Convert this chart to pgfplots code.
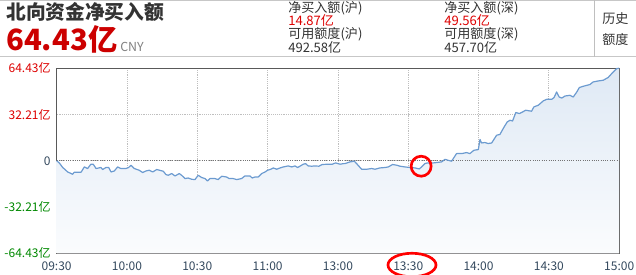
\documentclass[border=0pt]{standalone}
\usepackage{pgfplots}
\pgfplotsset{compat=1.18}
\usepackage{pgfplotstable}
\usepackage{fontspec}
\setmainfont{Noto Sans CJK SC}
\definecolor{linec}{HTML}{6C9BD0}
\definecolor{upred}{HTML}{DD0000}
\definecolor{hdred}{HTML}{CC0000}
\definecolor{dngreen}{HTML}{008800}
\definecolor{txt}{HTML}{333333}
\definecolor{zerol}{HTML}{34495E}
\pgfplotstableread{
t v
0 0
1.1 -1.5
2.6 -4.7
4.7 -7.8
6.8 -9.4
7.5 -8.0
10.4 -8.0
11.8 -4.3
13.2 -5.4
14.6 -2.4
15.6 -2.4
16.8 -5.4
18.9 -4.7
19.6 -6.1
21.0 -4.7
22.2 -4.7
23.2 -7.8
24.6 -7.1
26.0 -4.3
27.4 -5.4
29.6 -5.4
30.7 -4.7
31.7 -3.1
33.1 -5.4
35.2 -6.6
36.7 -8.2
38.1 -7.1
39.5 -6.6
41.0 -7.8
42.7 -6.1
45.5 -7.3
46.6 -9.6
47.6 -10.1
49.1 -8.9
50.5 -10.6
52.3 -8.9
53.3 -10.1
54.8 -12.4
56.1 -12.0
57.6 -12.9
59.0 -13.1
60.4 -10.1
61.9 -11.7
63.3 -12.4
64.4 -14.1
65.4 -12.4
67.5 -12.4
68.9 -13.1
70.4 -10.8
72.5 -11.3
73.6 -12.4
75.3 -12.4
76.8 -13.1
78.9 -12.4
80.3 -10.6
82.5 -10.6
83.4 -12.0
84.6 -11.3
86.0 -11.3
87.5 -8.9
88.9 -7.8
90.0 -6.6
91.4 -5.9
92.4 -5.0
93.9 -5.9
95.3 -5.0
96.7 -4.3
98.8 -3.6
100.3 -4.3
101.7 -3.6
102.8 -4.7
103.8 -3.8
105.2 -2.4
106.2 -2.0
107.3 -3.6
108.8 -3.8
110.2 -3.6
111.9 -3.8
113.3 -2.6
115.9 -2.4
117.6 -2.4
119.0 -1.5
120.9 -2.4
122.3 -2.0
123.0 -2.0
125.1 -0.8
127.0 -0.3
128.2 -2.4
130.1 -5.9
132.3 -5.9
134.4 -5.4
135.8 -5.9
137.9 -5.0
140.1 -4.7
141.5 -4.3
143.3 -2.6
145.1 -3.1
146.5 -3.8
148.6 -4.3
150.7 -4.7
152.9 -5.0
154.7 -5.7
155.7 -4.3
157.1 -2.0
158.1 -1.5
160.7 -1.5
164.2 -0.8
165.7 1.0
167.1 0.3
168.5 -0.3
170.6 5.0
172.8 5.0
174.9 5.7
176.3 5.0
178.0 7.3
179.9 7.8
180.6 14.8
181.3 12.4
182.7 12.7
184.1 12.0
185.6 12.4
187.7 17.8
189.1 18.3
190.5 22.4
192.2 27.0
193.4 28.2
194.5 27.7
195.9 33.6
197.4 32.9
198.8 34.0
200.1 35.2
201.9 34.7
202.6 34.5
203.6 37.5
205.5 38.7
207.6 41.7
209.1 42.8
211.2 42.8
212.2 44.0
213.3 47.9
214.4 44.4
215.5 43.7
216.9 45.1
219.0 45.6
220.4 44.4
221.9 47.9
223.0 51.0
224.7 51.9
227.5 53.1
228.9 54.9
231.1 55.6
233.2 56.1
235.3 58.0
236.8 60.7
237.9 62.6
238.9 64.2
240 64.43
}\flow
\begin{document}
\begin{tikzpicture}[x=0.75pt,y=0.75pt]
\useasboundingbox (0,0) rectangle (636,275);
\draw[black!22, line width=1.5pt] (0,274.5) -- (636,274.5);
\draw[black!22, line width=0.75pt] (0,218) -- (636,218);
\draw[black!25, line width=0.75pt] (594,218) -- (594,275);
\node[anchor=base west, inner sep=0pt, font=\fontsize{14.8pt}{16pt}\selectfont\bfseries, text=txt] at (6,255) {北向资金净买入额};
\node[anchor=base west, inner sep=0pt, font=\fontsize{22pt}{24pt}\selectfont\bfseries, text=hdred] at (6,224) {64.43亿};
\node[anchor=base west, inner sep=0pt, font=\fontsize{9.3pt}{10pt}\selectfont, text=black!50] at (120,223) {CNY};
\begin{scope}[every node/.style={anchor=base west, inner sep=0pt, font=\fontsize{9.8pt}{11pt}\selectfont, text=txt}]
\node at (288,262) {净买入额(沪)};
\node[text=upred] at (288,249) {14.87亿};
\node at (288,236) {可用额度(沪)};
\node at (288,222.5) {492.58亿};
\node at (444,262) {净买入额(深)};
\node[text=upred] at (444,249) {49.56亿};
\node at (444,236) {可用额度(深)};
\node at (444,222.5) {457.70亿};
\node at (602,251) {历史};
\node at (602,230) {额度};
\end{scope}
\begin{axis}[
  at={(42.5pt,16.3pt)}, anchor=south west,
  scale only axis, width=421.9pt, height=138.75pt,
  xmin=0, xmax=240, ymin=-64.43, ymax=64.43,
  xtick={0,30,60,90,120,150,180,210,240},
  xticklabels={09:30,10:00,10:30,11:00,13:00,13:30,14:00,14:30,15:00},
  ytick={-64.43,-32.21,0,32.21,64.43},
  yticklabels={\textcolor{dngreen}{-64.43亿},\textcolor{dngreen}{-32.21亿},\textcolor{zerol}{0},\textcolor{upred}{32.21亿},\textcolor{upred}{64.43亿}},
  major tick length=0pt,
  grid=major,
  grid style={densely dotted, black!25, line width=0.6pt},
  axis line style={draw=black!65, line width=0.9pt},
  tick label style={font=\fontsize{9pt}{10pt}\selectfont},
  xticklabel style={text=zerol, yshift=-2.5pt},
  yticklabel style={xshift=-1pt},
  /pgf/number format/assume math mode=true,
  clip=false,
  axis on top=false,
]
\addplot[draw=none, top color=linec!22, bottom color=linec!3] table {\flow} -- (axis cs:240,-64.43) -- (axis cs:0,-64.43) -- cycle;
\draw[densely dotted, black!55, line width=0.7pt] (axis cs:0,0) -- (axis cs:240,0);
\addplot[linec, line width=0.9pt, line join=round] table {\flow};
\draw[red, line width=2pt] (axis cs:155.5,-3.8) circle [radius=7.5pt];
\draw[red, line width=2pt] (axis cs:151.6,-72.6) ellipse [x radius=18pt, y radius=8.8pt];
\end{axis}
\end{tikzpicture}
\end{document}
